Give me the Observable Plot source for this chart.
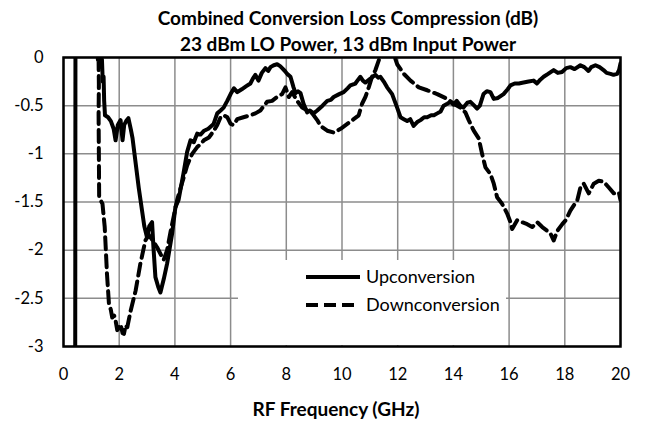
<!DOCTYPE html>
<html>
<head>
<meta charset="utf-8">
<script src="https://cdn.jsdelivr.net/npm/d3@7"></script>
<script src="https://cdn.jsdelivr.net/npm/@observablehq/plot@0.6"></script>
<style>
  html, body { margin: 0; padding: 0; background: white; }
  #chart { width: 646px; height: 423px; }
</style>
</head>
<body>
<div id="chart"></div>
<script>
// Upconversion (solid)
const upFreq = [0.42, 0.43, 1.34, 1.36, 1.38, 1.41, 1.44, 1.46, 1.49, 1.6, 1.7, 1.8, 1.87, 1.95, 2.05, 2.12, 2.18, 2.25, 2.33, 2.42, 2.48,
  2.7, 2.9, 3.0, 3.08, 3.18, 3.23, 3.3, 3.4, 3.48, 3.6, 3.72, 3.9, 4.02, 4.13, 4.31, 4.44, 4.56, 4.68, 4.8, 4.92, 5.05, 5.2, 5.39,
  5.52, 5.64, 5.75, 5.88, 6.0, 6.12, 6.24, 6.4, 6.55, 6.71, 6.8, 6.89, 7.0, 7.12, 7.25, 7.35, 7.43, 7.55, 7.67, 7.78, 7.85, 7.95,
  8.03, 8.15, 8.26, 8.33, 8.42, 8.51, 8.62, 8.75, 8.85, 8.98, 9.11, 9.3, 9.47, 9.6, 9.7, 9.9, 10.06, 10.2, 10.3, 10.48, 10.58, 10.66,
  10.75, 10.84, 11.02, 11.1, 11.2, 11.3, 11.38, 11.5, 11.62, 11.8, 11.98, 12.1, 12.22, 12.34, 12.45, 12.57, 12.7, 12.82, 12.95, 13.06,
  13.2, 13.3, 13.42, 13.54, 13.65, 13.78, 13.9, 14.0, 14.12, 14.25, 14.36, 14.5, 14.61, 14.75, 14.85, 14.95, 15.08, 15.2, 15.33, 15.45,
  15.6, 15.8, 15.95, 16.05, 16.2, 16.35, 16.52, 16.7, 16.88, 17.0, 17.12, 17.24, 17.4, 17.6, 17.75, 17.9, 18.05, 18.2, 18.35, 18.56,
  18.7, 18.85, 18.95, 19.1, 19.25, 19.39, 19.5, 19.64, 19.75, 19.88, 19.95, 20.0];
const upLoss = [-3.5, 0.5, 0.5, -0.1, -0.02, -0.25, -0.2, -0.45, -0.6, -0.62, -0.66, -0.74, -0.86, -0.7, -0.65, -0.86, -0.7, -0.66, -0.63, -0.75, -0.84,
  -1.35, -1.75, -1.87, -1.75, -1.71, -1.97, -2.28, -2.38, -2.44, -2.3, -2.14, -1.83, -1.55, -1.48, -1.2, -0.98, -0.86, -0.88, -0.79, -0.8, -0.76, -0.74, -0.69,
  -0.58, -0.55, -0.52, -0.45, -0.38, -0.32, -0.36, -0.33, -0.3, -0.27, -0.22, -0.18, -0.24, -0.16, -0.11, -0.14, -0.1, -0.08, -0.07, -0.09, -0.11, -0.14,
  -0.17, -0.2, -0.31, -0.37, -0.35, -0.37, -0.48, -0.57, -0.55, -0.58, -0.55, -0.5, -0.45, -0.44, -0.41, -0.38, -0.36, -0.32, -0.29, -0.27, -0.23, -0.2,
  -0.24, -0.26, -0.22, -0.2, -0.18, -0.21, -0.2, -0.25, -0.31, -0.38, -0.52, -0.62, -0.64, -0.66, -0.64, -0.71, -0.67, -0.65, -0.62, -0.62,
  -0.6, -0.6, -0.58, -0.56, -0.5, -0.48, -0.46, -0.49, -0.45, -0.5, -0.52, -0.47, -0.46, -0.5, -0.53, -0.5, -0.38, -0.35, -0.36, -0.43,
  -0.42, -0.38, -0.33, -0.29, -0.27, -0.27, -0.26, -0.25, -0.24, -0.27, -0.23, -0.2, -0.17, -0.13, -0.16, -0.15, -0.11, -0.1, -0.12, -0.08,
  -0.1, -0.14, -0.1, -0.08, -0.1, -0.13, -0.16, -0.17, -0.18, -0.17, -0.13, -0.06];

// Downconversion (dashed)
const downFreq = [1.22, 1.24, 1.26, 1.27, 1.26, 1.27, 1.28, 1.4, 1.48, 1.56, 1.63, 1.7, 1.75, 1.82, 1.87, 1.93, 2.0, 2.05, 2.12, 2.17, 2.23, 2.29,
  2.41, 2.59, 2.76, 2.94, 3.06, 3.2, 3.36, 3.5, 3.6, 3.72, 3.85, 3.95, 4.08, 4.26, 4.44, 4.62, 4.8, 4.92, 5.04, 5.22, 5.4, 5.52, 5.64,
  5.76, 5.88, 6.0, 6.1, 6.24, 6.46, 6.71, 6.89, 7.07, 7.2, 7.31, 7.49, 7.67, 7.85, 7.97, 8.09, 8.21, 8.39, 8.57, 8.75, 8.93, 9.11, 9.23,
  9.47, 9.71, 9.95, 10.19, 10.42, 10.6, 10.72, 10.84, 10.96, 11.08, 11.2, 11.32, 11.42, 11.6, 11.8, 11.9, 11.98, 12.22, 12.46, 12.76,
  13.06, 13.42, 13.78, 14.01, 14.25, 14.43, 14.55, 14.73, 14.91, 15.03, 15.15, 15.33, 15.45, 15.57, 15.75, 15.93, 16.05, 16.11, 16.29,
  16.47, 16.65, 16.83, 17.01, 17.19, 17.37, 17.49, 17.6, 17.73, 17.91, 18.03, 18.2, 18.45, 18.56, 18.68, 18.86, 19.04, 19.22, 19.4,
  19.58, 19.76, 19.94, 20.0];
const downLoss = [0.1, -0.06, -0.02, -0.28, -0.6, -1.0, -1.45, -1.52, -1.76, -2.24, -2.55, -2.62, -2.7, -2.68, -2.73, -2.83, -2.8, -2.77, -2.86, -2.87, -2.78, -2.8,
  -2.63, -2.42, -2.14, -1.9, -1.84, -1.9, -1.97, -2.05, -2.1, -2.0, -1.8, -1.66, -1.48, -1.3, -1.12, -1.0, -0.93, -0.9, -0.86, -0.83, -0.76, -0.7, -0.62,
  -0.6, -0.62, -0.69, -0.7, -0.64, -0.62, -0.6, -0.58, -0.55, -0.5, -0.46, -0.45, -0.41, -0.38, -0.31, -0.41, -0.36, -0.45, -0.52, -0.55, -0.58, -0.65, -0.71,
  -0.76, -0.78, -0.74, -0.69, -0.64, -0.6, -0.48, -0.41, -0.31, -0.2, -0.13, -0.03, 0.04, 0.06, 0.03, 0.0, -0.07, -0.17, -0.24, -0.31,
  -0.34, -0.38, -0.43, -0.48, -0.52, -0.57, -0.65, -0.76, -0.84, -1.0, -1.14, -1.21, -1.31, -1.45, -1.52, -1.62, -1.71, -1.78, -1.69,
  -1.71, -1.73, -1.76, -1.71, -1.76, -1.8, -1.83, -1.9, -1.8, -1.73, -1.69, -1.59, -1.48, -1.35, -1.31, -1.41, -1.31, -1.28, -1.29,
  -1.35, -1.41, -1.4, -1.48];

const xTicks = [0, 2, 4, 6, 8, 10, 12, 14, 16, 18, 20];
const yTicks = [0, -0.5, -1, -1.5, -2, -2.5, -3];
const seriesNames = ["Upconversion", "Downconversion"];
const titleLines = ["Combined Conversion Loss Compression (dB)", "23 dBm LO Power, 13 dBm Input Power"];
const xTitle = "RF Frequency (GHz)";

const up = upFreq.map((f, i) => ({f, v: upLoss[i]}));
const down = downFreq.map((f, i) => ({f, v: downLoss[i]}));

const FONT = "Lato, 'Open Sans', sans-serif";
const chart = Plot.plot({
  width: 646, height: 423,
  marginLeft: 63, marginRight: 26, marginTop: 57, marginBottom: 77,
  style: {fontFamily: FONT, fontSize: "16.5px", color: "black", background: "white"},
  x: {domain: [0, 20], ticks: xTicks, label: null, tickSize: 0, tickPadding: 22, tickFormat: d => String(d)},
  y: {domain: [-3, 0], ticks: yTicks, label: null, tickSize: 0, tickPadding: 20, tickFormat: d => String(d)},
  marks: [
    Plot.ruleX(xTicks, {stroke: "#8c8c8c", strokeWidth: 1.5}),
    Plot.ruleY(yTicks, {stroke: "#8c8c8c", strokeWidth: 1.5}),
    Plot.line(up, {x: "f", y: "v", stroke: "black", strokeWidth: 4, clip: true, strokeLinejoin: "round"}),
    Plot.line(down, {x: "f", y: "v", stroke: "black", strokeWidth: 4, strokeDasharray: "12,6", clip: true}),
    Plot.frame({stroke: "black", strokeWidth: 2.5})
  ]
});
document.getElementById("chart").appendChild(chart);

const svg = d3.select(chart);
// legend background (covers grid)
svg.insert("rect", "g[aria-label='line']")
  .attr("x", 238).attr("y", 260).attr("width", 268).attr("height", 85).attr("fill", "white");

const lg = svg.append("g").attr("text-anchor", "start");
const legendRows = [{y: 277, dash: null}, {y: 305, dash: "12,6"}];
legendRows.forEach((r, i) => {
  lg.append("line").attr("x1", 306).attr("x2", i === 0 ? 360 : 354).attr("y1", r.y).attr("y2", r.y)
    .attr("stroke", "black").attr("stroke-width", 4).attr("stroke-dasharray", r.dash);
  lg.append("text").attr("x", 366).attr("y", r.y).attr("dy", "0.35em").attr("text-anchor", "start")
    .attr("font-family", FONT).attr("font-size", 18).text(seriesNames[i]);
});

const tg = svg.append("g").attr("font-family", FONT).attr("font-weight", "bold").attr("font-size", 19).attr("text-anchor", "middle");
tg.append("text").attr("x", 348).attr("y", 25).text(titleLines[0]);
tg.append("text").attr("x", 348).attr("y", 51).text(titleLines[1]);
tg.append("text").attr("x", 336).attr("y", 416).text(xTitle);
</script>
</body>
</html>
